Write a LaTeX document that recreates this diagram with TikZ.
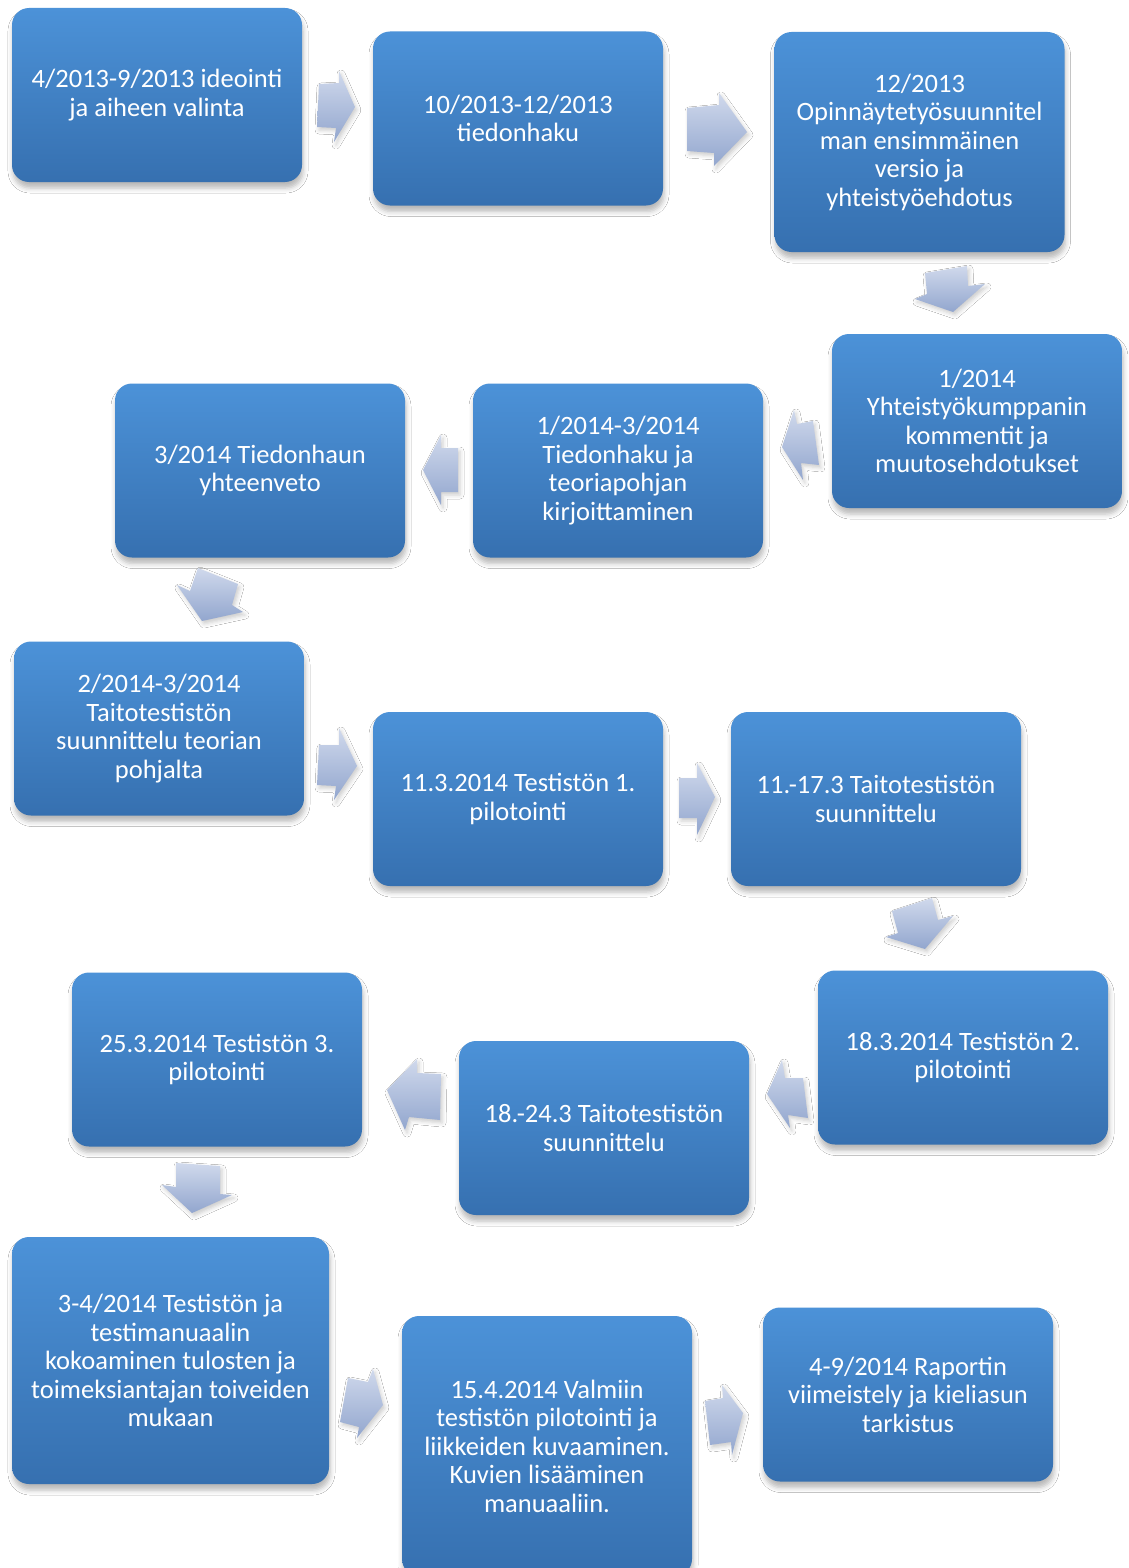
\documentclass[tikz,border=0pt]{standalone}
\usepackage{fontspec}
\setmainfont{Carlito}
\usetikzlibrary{shadows.blur}
\definecolor{boxtop}{RGB}{76,146,216}
\definecolor{boxbot}{RGB}{54,112,176}
\definecolor{arrtop}{RGB}{208,217,236}
\definecolor{arrbot}{RGB}{146,166,206}
\tikzset{
  stagebox/.style={rounded corners=17pt, top color=boxtop, bottom color=boxbot, draw=none,
    minimum width=290pt, minimum height=174pt, text=white, align=center,
    font=\fontsize{26.5}{28.5}\selectfont, inner sep=4pt,
    blur shadow={shadow xshift=1pt, shadow yshift=-6pt, shadow blur radius=5pt, shadow opacity=28}},
  blockarrow/.style={top color=arrtop, bottom color=arrbot, draw=none,
    blur shadow={shadow xshift=2pt, shadow yshift=-3pt, shadow blur radius=4pt, shadow opacity=20}}
}
\begin{document}
\begin{tikzpicture}[x=1pt,y=-1pt]
\clip (0,0) rectangle (1128,1568);
\fill[white] (0,0) rectangle (1128,1568);

% boxes
\node[stagebox] (b1) at (157,95) {4/2013-9/2013 ideointi\\ja aiheen valinta};
\node[stagebox] (b2) at (518,118.5) {10/2013-12/2013\\tiedonhaku};
\node[stagebox, minimum height=220pt] (b3) at (919.5,142) {12/2013\\Opinnäytetyösuunnitel\\man ensimmäinen\\versio ja\\yhteistyöehdotus};
\node[stagebox] (b4) at (977,421) {1/2014\\Yhteistyökumppanin\\kommentit ja\\muutosehdotukset};
\node[stagebox] (b5) at (618,470.5) {1/2014-3/2014\\Tiedonhaku ja\\teoriapohjan\\kirjoittaminen};
\node[stagebox] (b6) at (260,470.5) {3/2014 Tiedonhaun\\yhteenveto};
\node[stagebox] (b7) at (159,728.5) {2/2014-3/2014\\Taitotestistön\\suunnittelu teorian\\pohjalta};
\node[stagebox] (b8) at (518,799) {11.3.2014 Testistön 1.\\pilotointi};
\node[stagebox] (b9) at (876,799) {11.-17.3 Taitotestistön\\suunnittelu};
\node[stagebox] (b10) at (963,1057.5) {18.3.2014 Testistön 2.\\pilotointi};
\node[stagebox] (b11) at (604,1128) {18.-24.3 Taitotestistön\\suunnittelu};
\node[stagebox] (b12) at (217,1059.5) {25.3.2014 Testistön 3.\\pilotointi};
\node[stagebox, minimum width=317pt, minimum height=247pt] (b13) at (170.5,1360.5) {3-4/2014 Testistön ja\\testimanuaalin\\kokoaminen tulosten ja\\toimeksiantajan toiveiden\\mukaan};
\node[stagebox, minimum height=260pt] (b14) at (547,1446) {15.4.2014 Valmiin\\testistön pilotointi ja\\liikkeiden kuvaaminen.\\Kuvien lisääminen\\manuaaliin.};
\node[stagebox] (b15) at (908,1394.5) {4-9/2014 Raportin\\viimeistely ja kieliasun\\tarkistus};

% block arrows
\path[blockarrow] (319,84) -- (339,83) -- (339,71) -- (355,107) -- (334,142) -- (336,128) -- (317,127) -- cycle;
\path[blockarrow] (687,108) -- (719,105) -- (719,93) -- (747,132) -- (714,166) -- (714,153) -- (687,151) -- cycle;
\path[blockarrow] (925,273) -- (967,266) -- (968,286) -- (985,284) -- (953,312) -- (915,299) -- (927,294) -- cycle;
\path[blockarrow] (813,421) -- (819,465) -- (801,463) -- (803,480) -- (782,447) -- (794,410) -- (797,424) -- cycle;
\path[blockarrow] (458,448) -- (458,492) -- (441,492) -- (441,505) -- (423,470) -- (441,435) -- (441,448) -- cycle;
\path[blockarrow] (198,568) -- (238,584) -- (232,605) -- (243,612) -- (202,621) -- (177,585) -- (190,591) -- cycle;
\path[blockarrow] (319,745) -- (339,745) -- (339,728) -- (357,766) -- (334,800) -- (336,786) -- (317,785) -- cycle;
\path[blockarrow] (679,778) -- (697,778) -- (697,763) -- (715,797) -- (697,835) -- (697,818) -- (679,818) -- cycle;
\path[blockarrow] (892,911) -- (932,898) -- (938,920) -- (953,916) -- (925,949) -- (886,937) -- (898,933) -- cycle;
\path[blockarrow] (803,1078) -- (808,1118) -- (788,1115) -- (790,1128) -- (767,1094) -- (782,1060) -- (785,1078) -- cycle;
\path[blockarrow] (441,1074) -- (440,1120) -- (409,1117) -- (405,1130) -- (387,1090) -- (417,1059) -- (417,1073) -- cycle;
\path[blockarrow] (176,1163) -- (220,1166) -- (220,1194) -- (232,1195) -- (192,1213) -- (162,1185) -- (176,1187) -- cycle;
\path[blockarrow] (348,1378) -- (368,1382) -- (373,1369) -- (383,1405) -- (357,1438) -- (359,1427) -- (340,1422) -- cycle;
\path[blockarrow] (705,1401) -- (723,1398) -- (722,1385) -- (743,1413) -- (732,1455) -- (731,1442) -- (710,1445) -- cycle;
\end{tikzpicture}
\end{document}
